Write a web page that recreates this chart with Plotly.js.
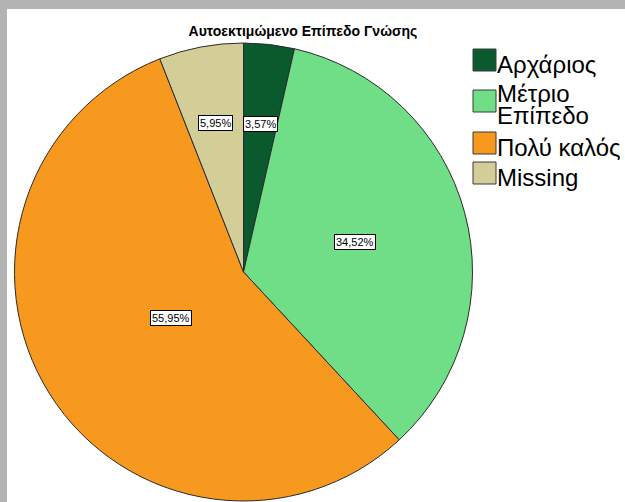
<!DOCTYPE html>
<html>
<head>
<meta charset="utf-8">
<script src="https://cdn.plot.ly/plotly-3.0.1.min.js"></script>
<style>
  html, body { margin: 0; padding: 0; background: #b3b3b3; width: 625px; height: 502px; overflow: hidden; }
  #chart { position: absolute; left: 7px; top: 9px; width: 618px; height: 493px; background: #ffffff; }
</style>
</head>
<body>
<div id="chart"></div>
<script>
// ---- data ----
const chartTitle = "Αυτοεκτιμώμενο Επίπεδο Γνώσης";
const categories = ["Αρχάριος", "Μέτριο<br>Επίπεδο", "Πολύ καλός", "Missing"];
const counts = [3, 29, 47, 5];
const sliceColors = ["#0b5a2e", "#70dd87", "#f7991f", "#d3cd98"];

// ---- layout helpers (positions, not data) ----
const W = 618, H = 493;
const cx = 236.5, cy = 263, R = 229;           // pie centre / radius in px
const labelRadius = [0.65, 0.505, 0.375, 0.66]; // label distance as fraction of R
const legendX = 466, legendSw = 23;
const legendTop = [40, 81, 123, 153];
const legendFont = 24, legendLine = 22;

const total = counts.reduce((a, b) => a + b, 0);
const pct = counts.map(v => (v / total * 100).toFixed(2).replace('.', ',') + '%');

const annotations = [];
const shapes = [];

// percentage labels computed from slice mid-angles
let cum = 0;
counts.forEach((v, i) => {
  const mid = (cum + v / 2) / total * 2 * Math.PI;
  cum += v;
  const px = cx + labelRadius[i] * R * Math.sin(mid);
  const py = cy - labelRadius[i] * R * Math.cos(mid);
  annotations.push({
    x: px / W, y: 1 - py / H, xref: 'paper', yref: 'paper',
    xanchor: 'center', yanchor: 'middle', showarrow: false,
    text: pct[i],
    font: { family: 'Arial, Liberation Sans, sans-serif', size: 11, color: '#000' },
    bgcolor: '#ffffff', bordercolor: '#000000', borderwidth: 1, borderpad: 1
  });
});

// custom legend built from categories and colours
categories.forEach((c, i) => {
  const top = legendTop[i];
  shapes.push({
    type: 'rect', xref: 'paper', yref: 'paper',
    x0: legendX / W, x1: (legendX + legendSw) / W,
    y0: 1 - top / H, y1: 1 - (top + legendSw - 1) / H,
    fillcolor: sliceColors[i], line: { color: '#3a3a3a', width: 1 }
  });
  const lines = c.split('<br>');
  const firstCenter = lines.length > 1 ? top + 3 : top + 15;
  lines.forEach((ln, k) => {
    annotations.push({
      x: (legendX + legendSw) / W, y: 1 - (firstCenter + k * legendLine) / H,
      xref: 'paper', yref: 'paper', xanchor: 'left', yanchor: 'middle',
      showarrow: false, text: ln, borderpad: 0,
      font: { family: 'Arial, Liberation Sans, sans-serif', size: legendFont, color: '#000' }
    });
  });
});

const trace = {
  type: 'pie',
  labels: categories,
  values: counts,
  sort: false,
  direction: 'clockwise',
  rotation: 0,
  textinfo: 'none',
  hoverinfo: 'label+percent',
  marker: { colors: sliceColors, line: { color: '#2b2b2b', width: 1 } },
  domain: { x: [(cx - R) / W, (cx + R) / W], y: [1 - (cy + R) / H, 1 - (cy - R) / H] },
  showlegend: false
};

const layout = {
  width: W, height: H,
  margin: { l: 0, r: 0, t: 0, b: 0 },
  paper_bgcolor: '#ffffff',
  showlegend: false,
  title: {
    text: '<b>' + chartTitle + '</b>',
    x: 296 / W, xanchor: 'center', xref: 'paper',
    y: 1 - 22 / H, yanchor: 'middle', yref: 'container',
    font: { family: 'Arial, Liberation Sans, sans-serif', size: 14, color: '#000' }
  },
  annotations: annotations,
  shapes: shapes
};

Plotly.newPlot('chart', [trace], layout, { displayModeBar: false, staticPlot: true });
</script>
</body>
</html>
